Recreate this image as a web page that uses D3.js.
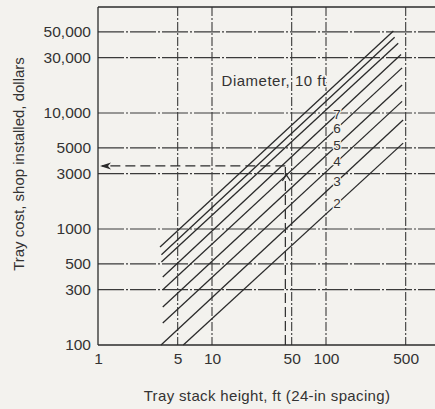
<!DOCTYPE html>
<html>
<head>
<meta charset="utf-8">
<script src="https://cdn.jsdelivr.net/npm/d3@7"></script>
<style>
  html, body { margin: 0; padding: 0; background: #f3f2ee; }
  svg { display: block; }
  text { font-family: "Liberation Sans", Arial, sans-serif; fill: #333; }
</style>
</head>
<body>
<svg id="chart" width="435" height="409"></svg>
<script>
// ---- data ----
const xTicks = [1, 5, 10, 50, 100, 500];
const xTickLabels = ["1", "5", "10", "50", "100", "500"];
const yTicks = [100, 300, 500, 1000, 3000, 5000, 10000, 30000, 50000];
const yTickLabels = ["100", "300", "500", "1000", "3000", "5000", "10,000", "30,000", "50,000"];
const yGrid = [300, 500, 1000, 3000, 5000, 10000, 30000, 50000];
const xGrid = [5, 10, 50, 100, 500];

const diameters = [10, 9, 8, 7, 6, 5, 4, 3, 2];
const startHeight = [3.5, 3.6, 3.6, 3.7, 3.7, 3.7, 3.7, 3.57, 5.6];
const startCost = [700, 600, 520, 385, 300, 213, 155, 100, 100];
const endHeight = [390, 400, 430, 455, 465, 465, 465, 475, 475];
const endCost = [51000, 45000, 40000, 32000, 24500, 17400, 12600, 8700, 5500];
const lineLabels = ["Diameter, 10 ft", "", "", "7", "6", "5", "4", "3", "2"];
const labelHeight = 125;
const titleLabelHeight = 112;

const exampleHeight = 44;
const exampleCost = 3500;
const exampleArrowCost = 2650;

// ---- scales ----
const svg = d3.select("#chart");
const x = d3.scaleLog().domain([1, 1000]).range([98, 440]);
const y = d3.scaleLog().domain([100, 82000]).range([345, 7]);
const pLeft = 98, pRight = 435, pTop = 7, pBottom = 345;
const ink = "#2b2b2b";
const paper = "#f3f2ee";

function costAt(i, h) {
  const lh0 = Math.log10(startHeight[i]), lh1 = Math.log10(endHeight[i]);
  const lc0 = Math.log10(startCost[i]), lc1 = Math.log10(endCost[i]);
  return Math.pow(10, lc0 + (Math.log10(h) - lh0) * (lc1 - lc0) / (lh1 - lh0));
}

// ---- grid ----
svg.append("g").selectAll("line").data(yGrid).join("line")
  .attr("x1", pLeft).attr("x2", pRight)
  .attr("y1", d => y(d)).attr("y2", d => y(d))
  .attr("stroke", "#3a3a3a").attr("stroke-width", 1.1)
  .attr("stroke-dasharray", "26,2,2,2");

svg.append("g").selectAll("line").data(xGrid).join("line")
  .attr("x1", d => x(d)).attr("x2", d => x(d))
  .attr("y1", pTop).attr("y2", pBottom)
  .attr("stroke", "#3a3a3a").attr("stroke-width", 1.1)
  .attr("stroke-dasharray", "9,2,2,2");

// frame
svg.append("line").attr("x1", pLeft).attr("x2", pRight).attr("y1", pTop).attr("y2", pTop)
  .attr("stroke", ink).attr("stroke-width", 1.3);
svg.append("line").attr("x1", pLeft).attr("x2", pLeft).attr("y1", pTop).attr("y2", pBottom)
  .attr("stroke", ink).attr("stroke-width", 1.3);
svg.append("line").attr("x1", pLeft).attr("x2", pRight).attr("y1", pBottom).attr("y2", pBottom)
  .attr("stroke", ink).attr("stroke-width", 1.3);

// ---- axes labels via d3 axes ----
const yAxis = d3.axisLeft(y).tickValues(yTicks)
  .tickFormat((d, i) => yTickLabels[i]).tickSize(0).tickPadding(7);
const gy = svg.append("g").attr("transform", `translate(${pLeft},0)`).call(yAxis);
gy.select(".domain").remove();
gy.selectAll("text").style("font-size", "15.5px").attr("fill", "#333")
  .style("font-family", "Liberation Sans, Arial, sans-serif");

const xAxis = d3.axisBottom(x).tickValues(xTicks)
  .tickFormat((d, i) => xTickLabels[i]).tickSize(0).tickPadding(8);
const gx = svg.append("g").attr("transform", `translate(0,${pBottom})`).call(xAxis);
gx.select(".domain").remove();
gx.selectAll("text").style("font-size", "15.5px").attr("fill", "#333")
  .style("font-family", "Liberation Sans, Arial, sans-serif");

// ---- example dashed lines ----
svg.append("line")
  .attr("x1", x(exampleHeight)).attr("x2", x(exampleHeight))
  .attr("y1", y(100)).attr("y2", y(exampleCost))
  .attr("stroke", ink).attr("stroke-width", 1.2).attr("stroke-dasharray", "10,4");
svg.append("line")
  .attr("x1", x(exampleHeight)).attr("x2", pLeft + 4)
  .attr("y1", y(exampleCost)).attr("y2", y(exampleCost))
  .attr("stroke", ink).attr("stroke-width", 1.2).attr("stroke-dasharray", "10,5");
// left arrowhead
{
  const ax = pLeft + 2, ay = y(exampleCost);
  svg.append("path")
    .attr("d", `M${ax},${ay} L${ax + 11},${ay - 3.5} L${ax + 8},${ay} L${ax + 11},${ay + 3.5} Z`)
    .attr("fill", ink);
}
// upward arrowhead on vertical
{
  const ax = x(exampleHeight) + 1, ay = y(exampleArrowCost) - 5;
  svg.append("path")
    .attr("d", `M${ax - 4},${ay + 6} L${ax},${ay} L${ax + 4},${ay + 6}`)
    .attr("fill", "none").attr("stroke", ink).attr("stroke-width", 1.2);
}

// ---- diameter lines ----
svg.append("g").selectAll("line").data(diameters).join("line")
  .attr("x1", (d, i) => x(startHeight[i])).attr("y1", (d, i) => y(startCost[i]))
  .attr("x2", (d, i) => x(endHeight[i])).attr("y2", (d, i) => y(endCost[i]))
  .attr("stroke", ink).attr("stroke-width", 1.3);

// ---- line labels ----
diameters.forEach((d, i) => {
  const lab = lineLabels[i];
  if (!lab) return;
  if (i === 0) {
    const h = titleLabelHeight;
    svg.append("text")
      .attr("x", x(h) - 5).attr("y", y(costAt(i, h)) - 2)
      .attr("text-anchor", "end")
      .style("font-size", "15px").style("letter-spacing", "0.5px")
      .attr("stroke", paper).attr("stroke-width", 3).attr("paint-order", "stroke")
      .text(lab);
  } else {
    svg.append("text")
      .attr("x", x(labelHeight)).attr("y", y(costAt(i, labelHeight)))
      .attr("text-anchor", "middle").attr("dominant-baseline", "central")
      .style("font-size", "13.5px")
      .attr("stroke", paper).attr("stroke-width", 2.5).attr("paint-order", "stroke")
      .text(lab);
  }
});

// ---- axis titles ----
svg.append("text")
  .attr("x", 267).attr("y", 401)
  .attr("text-anchor", "middle")
  .style("font-size", "15px").style("letter-spacing", "0.35px")
  .text("Tray stack height, ft (24-in spacing)");

svg.append("text")
  .attr("transform", "translate(24,164) rotate(-90)")
  .attr("text-anchor", "middle")
  .style("font-size", "15px")
  .text("Tray cost, shop installed, dollars");
</script>
</body>
</html>
